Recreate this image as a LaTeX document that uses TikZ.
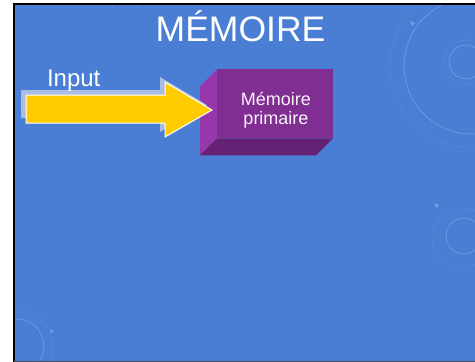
\documentclass[tikz,border=0pt]{standalone}
\usepackage{fontspec}
\setmainfont{Liberation Sans}
\definecolor{slidebg}{RGB}{73,126,212}
\definecolor{boxfront}{RGB}{128,46,146}
\definecolor{boxleft}{RGB}{150,56,172}
\definecolor{boxbottom}{RGB}{101,34,116}
\definecolor{arrowfill}{RGB}{255,204,0}
\definecolor{arrowshade}{RGB}{170,188,226}
\begin{document}
\begin{tikzpicture}[x=1pt,y=-1pt,
  deco/.style={draw=white,draw opacity=0.26,line width=0.6pt},
  decodot/.style={deco,draw opacity=0.18,dash pattern=on 0.8pt off 1.6pt},
  titletext/.style={text=white,font=\fontsize{35.5}{40}\selectfont,inner sep=0pt},
  labeltext/.style={text=white,font=\fontsize{24}{28}\selectfont,inner sep=0pt},
  boxtext/.style={text=white!94!boxfront,font=\fontsize{18}{19.5}\selectfont,align=center,inner sep=0pt},
  frontface/.style={fill=boxfront,minimum width=116pt,minimum height=69pt,inner sep=0pt,outer sep=0pt}]
  \useasboundingbox (0,0) rectangle (475,362);
  \fill[white] (0,0) rectangle (475,362);
  % slide background
  \fill[slidebg] (14,4) rectangle (475,362);
  % faint theme decorations
  \begin{scope}
    \clip (15,5) rectangle (475,361);
    \draw[deco] (112,7) arc[start angle=180,end angle=360,radius=13];
    \draw[decodot] (472,66) circle[radius=82];
    \draw[deco] (472,66) circle[radius=68];
    \draw[deco] (466,62) circle[radius=17];
    \draw[decodot] (466,62) circle[radius=22];
    \draw[deco] (17,346) circle[radius=27];
    \draw[decodot] (17,346) circle[radius=36];
    \draw[deco] (464,236) circle[radius=18];
    \draw[decodot] (462,238) circle[radius=30];
    \fill[white,opacity=0.25] (410,21) -- (415,23) -- (412,26) -- cycle;
    \fill[white,opacity=0.25] (434,203) -- (439,205) -- (436,208) -- cycle;
    \fill[white,opacity=0.25] (50,329) -- (54,331) -- (51,333) -- cycle;
  \end{scope}
  % slide frame
  \draw[black,line width=2pt] (14,362) -- (14,4) -- (475,4);
  \draw[black!70,line width=1.4pt] (14,361.3) -- (475,361.3);
  % title
  \node[titletext,anchor=base] (title) at (240.5,41.7) {MÉMOIRE};
  % 3D block for primary memory
  \node[frontface] (mem) at (275,103.8) {};
  \fill[boxleft] (mem.north west) -- ++(-17,17) -- ++(0,69) -- (mem.south west) -- cycle;
  \fill[boxbottom] (mem.south west) -- (mem.south east) -- ++(-17,17) -- ++(-116,0) -- cycle;
  \node[boxtext] (memtext) at (276,110) {Mémoire\\primaire};
  % input arrow with its shadow
  \fill[arrowshade] (21,90) -- (160,90) -- (160,77) -- (207,105) -- (160,132) -- (160,118) -- (21,118) -- cycle;
  \filldraw[fill=arrowfill,draw=white,line width=1pt,line join=miter]
    (26,95) -- (165,95) -- (165,82) -- (212,110) -- (165,137) -- (165,123) -- (26,123) -- cycle;
  \node[labeltext,anchor=base] (input) at (73.7,86) {Input};
\end{tikzpicture}
\end{document}
